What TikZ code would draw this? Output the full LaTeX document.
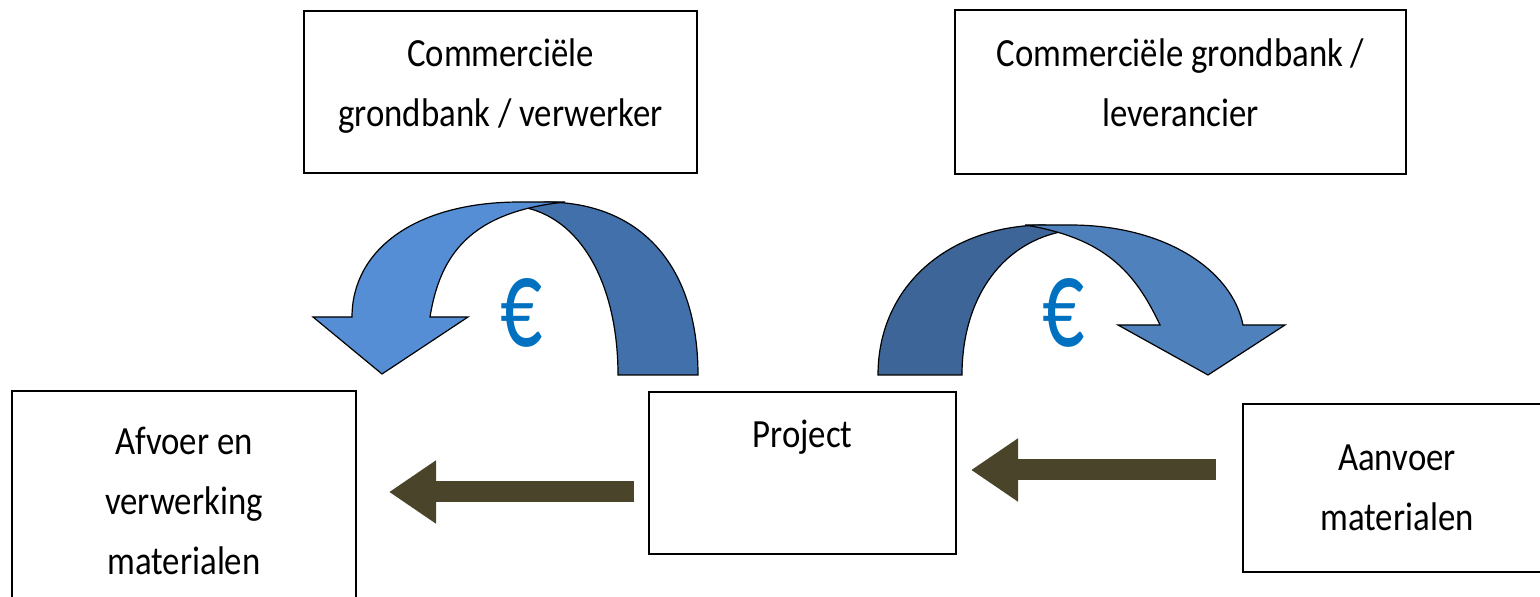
\documentclass[tikz,border=0pt]{standalone}
\usepackage{fontspec}
\setmainfont{Carlito}[FakeStretch=0.87]
\newfontfamily\eurofont{Carlito}[FakeStretch=0.65]
\usetikzlibrary{arrows.meta,calc}
\definecolor{lichtl}{RGB}{85,142,213}
\definecolor{donkerl}{RGB}{66,112,170}
\definecolor{donkerr}{RGB}{62,101,152}
\definecolor{lichtr}{RGB}{79,129,189}
\definecolor{olijf}{RGB}{74,68,42}
\definecolor{eurblauw}{RGB}{0,112,192}
\tikzset{%
    every node/.style={font=\fontsize{20}{30}\selectfont},
    vak/.style={rectangle, draw, line width=1pt, align=center, inner sep=0pt},
    bocht/.style={draw=black, line width=0.6pt},
    pijl/.style={draw=olijf, line width=10.5pt,
    	-{Triangle[length=23.5pt, width=30pt]}},
    euro/.style={text=eurblauw, font=\eurofont\fontsize{64}{70}\selectfont}
}

\begin{document}
\begin{tikzpicture}[x=0.5pt, y=-0.5pt]
  \useasboundingbox (0,0) rectangle (1540,597);
  \clip (0,0) rectangle (1540,597);

  \node (grondl) [vak, minimum width=196.5pt, minimum height=81pt]
    at (500.5, 92) {Commerciële\\grondbank / verwerker\strut};
  \node (grondr) [vak, minimum width=225.5pt, minimum height=82pt]
    at (1180.5, 92) {Commerciële grondbank /\\leverancier\strut};
  \node (project) [vak, minimum width=153.5pt, minimum height=81pt]
    at (802.5, 473) {Project\\\strut};
  \node (afvoer) [vak, minimum width=172pt, minimum height=110pt]
    at (184, 501) {Afvoer en\\verwerking\\materialen};
  \node (aanvoer) [vak, minimum width=154pt, minimum height=84pt]
    at (1397, 488) {Aanvoer\\materialen};

  % geldstroom links
  \draw [bocht, fill=donkerl] (545,202) .. controls (640,202) and (698,265) .. (698,375)
    -- (618,375) .. controls (618,290) and (585,222) .. (527,208) -- cycle;
  \draw [bocht, fill=lichtl] (565,202) -- (520,202)
    .. controls (415,202) and (352,250) .. (352,317) -- (313,317) -- (382,374)
    -- (468,317) -- (430,317) .. controls (440,255) and (470,212) .. (565,202) -- cycle;

  % geldstroom rechts
  \draw [bocht, fill=donkerr] (1045,225) .. controls (950,225) and (878,285) .. (878,375)
    -- (962,375) .. controls (962,300) and (1000,245) .. (1060,232) -- cycle;
  \draw [bocht, fill=lichtr] (1025,225) -- (1070,225)
    .. controls (1165,225) and (1232,270) .. (1243,325) -- (1285,325) -- (1208,375)
    -- (1118,325) -- (1160,325) .. controls (1135,272) and (1105,238) .. (1025,225) -- cycle;

  \node (e1) [euro] at (522,313) {€};
  \node (e2) [euro] at (1064,313) {€};

  \draw [pijl] ($(project.west)+(-14,19)$) -- ($(afvoer.east |- project.west)+(32,19)$);
  \draw [pijl] ($(aanvoer.west |- project.west)+(-26,-3)$) -- ($(project.east)+(14,-3)$);

\end{tikzpicture}
\end{document}
